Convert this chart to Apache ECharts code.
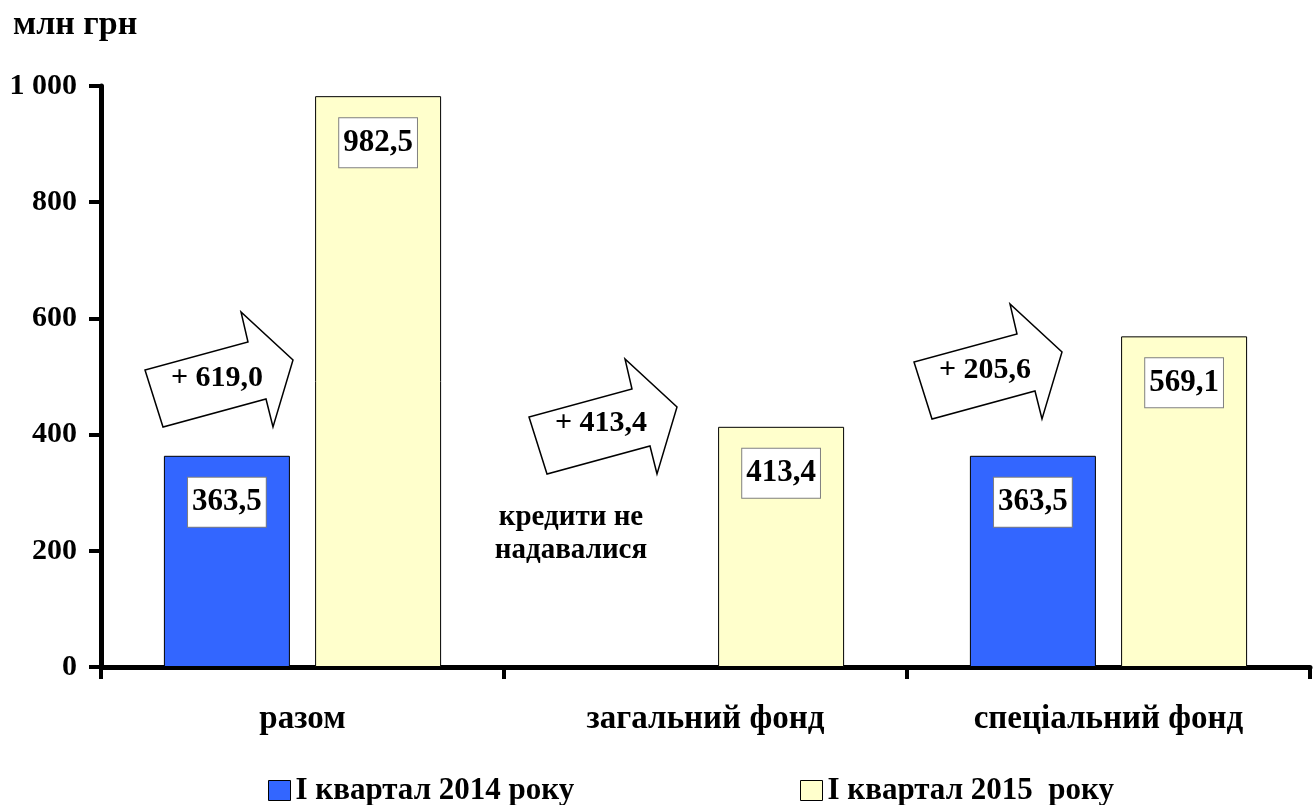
<!DOCTYPE html>
<html>
<head>
<meta charset="utf-8">
<script src="https://cdn.jsdelivr.net/npm/echarts@6/dist/echarts.min.js"></script>
<style>
    html, body { margin: 0; padding: 0; background: #fff; }
    #chart { width: 1313px; height: 805px; }
</style>
</head>
<body>
<div id="chart"></div>
<script>
let categories = ['разом', 'загальний фонд', 'спеціальний фонд'];
let seriesNames = ['I квартал 2014 року', 'I квартал 2015  року'];
let values2014 = [363.5, null, 363.5];   // у загальному фонді кредити не надавалися
let values2015 = [982.5, 413.4, 569.1];
let yTicks = [0, 200, 400, 600, 800, 1000];

let serif = '"Liberation Serif", "Times New Roman", serif';

// 363.5 -> "363,5"
let fmt = v => v.toFixed(1).replace('.', ',');
// 1000 -> "1 000"
let fmtTick = v => String(v).replace(/\B(?=(\d{3})+(?!\d))/g, ' ');

// приріст для стрілок
let diffs = values2015.map((v, i) => v - (values2014[i] || 0));

// контур стрілки відносно її лівого верхнього кута
let arrowShape = [[0, 0], [18, 57], [121, 29], [128, 57], [148, -10], [96, -58], [103, -28]];
let arrowPos = [[145, 370], [529, 417], [914, 362]];
let arrowText = [[72, 8], [72, 6], [71, 8]];

let barLabel = {
    show: true,
    position: 'insideTop',
    distance: 22,
    formatter: p => fmt(p.value),
    fontFamily: serif,
    fontWeight: 'bold',
    fontSize: 31,
    color: '#000',
    backgroundColor: '#fff',
    borderColor: '#808080',
    borderWidth: 1,
    padding: [7, 4, 7, 4],
    lineHeight: 35
};

let graphics = [];
arrowPos.forEach((p, i) => {
    graphics.push({
        type: 'polygon',
        shape: { points: arrowShape.map(a => [p[0] + a[0], p[1] + a[1]]) },
        style: { fill: '#fff', stroke: '#000', lineWidth: 1.5 },
        z: 10
    });
    graphics.push({
        type: 'text',
        x: p[0] + arrowText[i][0],
        y: p[1] + arrowText[i][1],
        style: {
            text: '+ ' + fmt(diffs[i]),
            font: 'bold 30px ' + serif,
            fill: '#000',
            align: 'center',
            verticalAlign: 'middle'
        },
        z: 11
    });
});
graphics.push({
    type: 'text',
    x: 571,
    y: 534,
    style: {
        text: 'кредити не\nнадавалися',
        font: 'bold 29px ' + serif,
        lineHeight: 33,
        fill: '#000',
        align: 'center',
        verticalAlign: 'middle'
    }
});

let legendCommon = {
    top: 775,
    padding: 0,
    itemWidth: 22,
    itemHeight: 20,
    itemGap: 4,
    icon: 'rect',
    textStyle: { fontFamily: serif, fontWeight: 'bold', fontSize: 31, lineHeight: 30, color: '#000' }
};

let option = {
    animation: false,
    title: {
        text: 'млн грн',
        left: 8,
        top: 3,
        textStyle: { fontFamily: serif, fontWeight: 'bold', fontSize: 34, color: '#000' }
    },
    legend: [
        Object.assign({ left: 268, data: [seriesNames[0]], itemStyle: { borderColor: '#000', borderWidth: 1 } }, legendCommon),
        Object.assign({ left: 800, data: [seriesNames[1]], itemStyle: { borderColor: '#000', borderWidth: 1 } }, legendCommon)
    ],
    grid: {
        left: 101,
        right: 3,
        top: 86,
        bottom: 138,
        containLabel: false
    },
    xAxis: {
        type: 'category',
        data: categories,
        axisLine: { lineStyle: { color: '#000', width: 5 } },
        axisTick: { show: true, interval: 0, length: 12, lineStyle: { color: '#000', width: 4 } },
        axisLabel: {
            margin: 36,
            fontFamily: serif,
            fontWeight: 'bold',
            fontSize: 33,
            color: '#000'
        }
    },
    yAxis: {
        type: 'value',
        min: yTicks[0],
        max: yTicks[yTicks.length - 1],
        interval: yTicks[1] - yTicks[0],
        splitLine: { show: false },
        axisLine: { show: true, lineStyle: { color: '#000', width: 5 } },
        axisTick: { show: true, length: 12, lineStyle: { color: '#000', width: 4 } },
        axisLabel: {
            margin: 24,
            formatter: fmtTick,
            fontFamily: serif,
            fontWeight: 'bold',
            fontSize: 30,
            color: '#000'
        }
    },
    series: [
        {
            name: seriesNames[0],
            type: 'bar',
            data: values2014,
            barWidth: 126,
            barGap: '20%',
            itemStyle: { color: '#3366FF', borderColor: '#000', borderWidth: 1 },
            label: barLabel
        },
        {
            name: seriesNames[1],
            type: 'bar',
            data: values2015,
            barWidth: 126,
            itemStyle: { color: '#FFFFCC', borderColor: '#000', borderWidth: 1 },
            label: barLabel
        }
    ],
    graphic: graphics
};

let mychart = echarts.init(document.getElementById('chart'));
mychart.setOption(option);
</script>
</body>
</html>
